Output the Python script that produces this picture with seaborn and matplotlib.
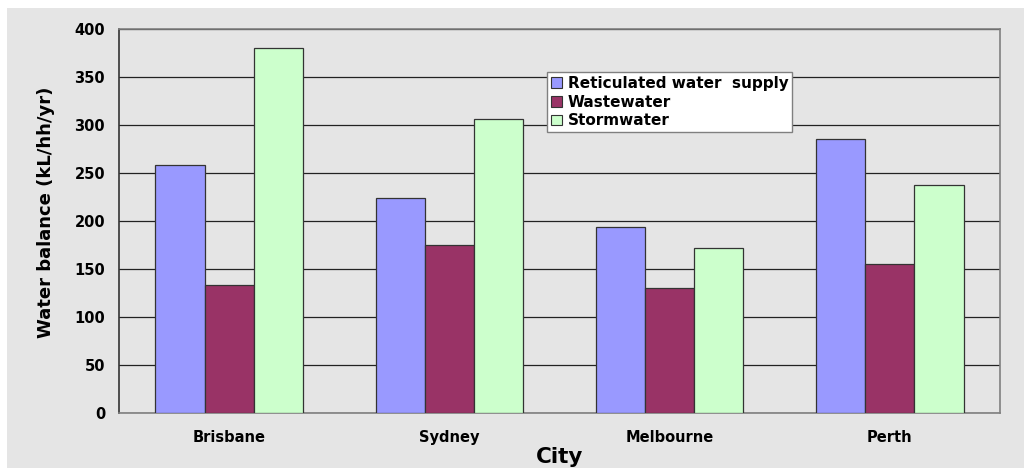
import numpy as np
import pandas as pd
import matplotlib
matplotlib.use("Agg")
import matplotlib.pyplot as plt
import seaborn as sns
from matplotlib.patches import Rectangle

cities = ["Brisbane", "Sydney", "Melbourne", "Perth"]
series = ["Reticulated water  supply", "Wastewater", "Stormwater"]
reticulated = [258, 224, 194, 285]
wastewater = [133, 175, 130, 155]
stormwater = [380, 306, 172, 237]
colors = ["#9999FF", "#993366", "#CCFFCC"]
yticks = [0, 50, 100, 150, 200, 250, 300, 350, 400]

df = pd.DataFrame({
    "City": cities * 3,
    "Series": [s for s in series for _ in cities],
    "Value": reticulated + wastewater + stormwater,
})

sns.set_style("white")
plt.rcParams['font.family'] = ['DejaVu Sans']
plt.rcParams['text.color'] = 'black'
plt.rcParams['axes.labelcolor'] = 'black'
plt.rcParams['xtick.labelcolor'] = 'black'
plt.rcParams['ytick.labelcolor'] = 'black'
bg = "#E5E5E5"

fig = plt.figure(figsize=(10.24, 4.68), dpi=100, facecolor="white")
# grey chart area with thin white margin top/left
fig.patches.append(Rectangle((7 / 1024, 0), 1, 1 - 8 / 468, transform=fig.transFigure,
                             facecolor=bg, edgecolor="none", zorder=-10))
ax = fig.add_axes([119 / 1024, 1 - 413 / 468, 881 / 1024, 384 / 468])
ax.set_facecolor(bg)

sns.barplot(data=df, x="City", y="Value", hue="Series", hue_order=series,
            order=cities, palette=colors, width=0.67, edgecolor="#333333",
            linewidth=0.9, saturation=1, ax=ax, zorder=3)

ax.set_ylim(0, 400)
ax.set_xlim(-0.5, 3.5)
ax.set_yticks(yticks)
ax.yaxis.grid(True, color="#222222", linewidth=0.9, zorder=0)
ax.set_axisbelow(True)

ax.set_xticks(range(len(cities)))
ax.set_xticklabels(cities, fontsize=10.5, fontweight="bold")
ax.set_xticks(np.arange(-0.5, 4.0, 1.0), minor=True)
ax.tick_params(axis="x", which="major", length=0, pad=12)
ax.tick_params(axis="x", which="minor", length=4, width=1, color="#444444", direction="out")
ax.tick_params(axis="y", length=6, width=1, color="#333333", direction="out", pad=4)
for lab in ax.get_yticklabels():
    lab.set_fontsize(10.5)
    lab.set_fontweight("bold")

for side in ["top", "right", "bottom"]:
    ax.spines[side].set_color("#808080")
    ax.spines[side].set_linewidth(1.2)
ax.spines["left"].set_color("#333333")
ax.spines["left"].set_linewidth(1.2)

ax.set_ylabel("Water balance (kL/hh/yr)", fontsize=13, fontweight="bold")
ax.yaxis.set_label_coords(-0.073, 0.523)
ax.set_xlabel("City", fontsize=15.5, fontweight="bold", labelpad=2)

leg = ax.legend(loc="upper left", bbox_to_anchor=(0.486, 0.888), frameon=True,
                fancybox=False, edgecolor="#808080", framealpha=1, facecolor="white",
                prop={"size": 11, "weight": "bold"}, handlelength=0.7,
                handleheight=0.7, handletextpad=0.4, borderpad=0.25,
                labelspacing=0.25, borderaxespad=0)
leg.get_frame().set_linewidth(1.0)
for h in leg.legend_handles:
    h.set_edgecolor("#333333")
    h.set_linewidth(0.8)

fig.savefig("out.png", dpi=100, facecolor="white")
